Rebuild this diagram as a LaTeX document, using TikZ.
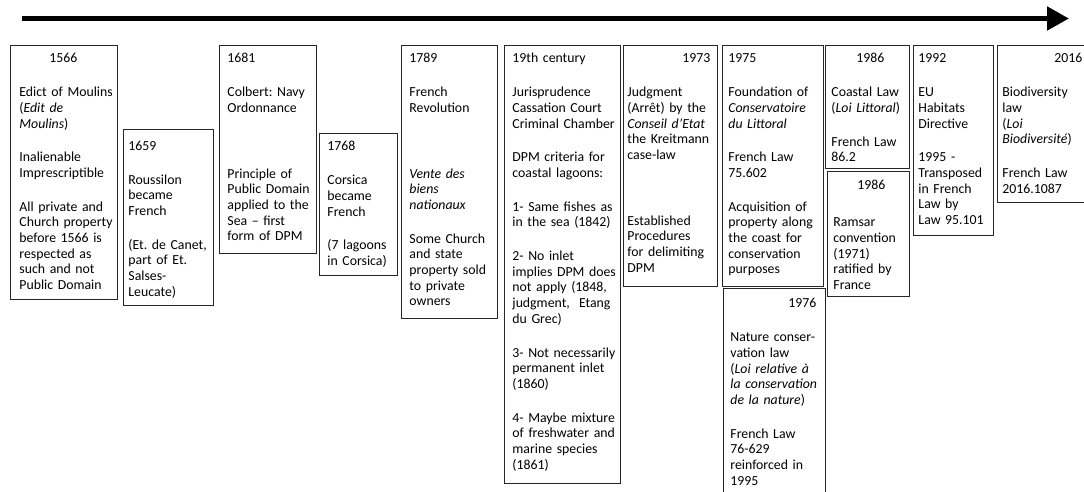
\documentclass[tikz,border=0pt]{standalone}
\usepackage{fontspec}
\setmainfont{Carlito}
\frenchspacing
\usetikzlibrary{arrows.meta}
\begin{document}
\begin{tikzpicture}[x=1pt,y=1pt,
    event/.style={draw=black!85,line width=0.9pt,anchor=north west,inner xsep=2pt,inner ysep=0pt,
      align=left,text height=17.5pt,font=\fontsize{13.8}{15.7}\selectfont},
    indent/.style={execute at begin node={\leftskip=#1pt\rightskip=-#1pt plus 1fil\relax}},
    timeline/.style={line width=5pt,-{Triangle[length=22pt,width=23pt]}}]
\useasboundingbox (0,0) rectangle (1084,-492);
\coordinate (t0) at (22,-18.5);
\coordinate (t1) at (1069,-18.5);
\draw[timeline] (t0) -- (t1);
\node[event,indent=7,text width=103pt,text depth=236.5pt] (e1566) at (10,-45) {\hspace*{\fill}1566\hspace*{\fill}\hspace*{15pt}\mbox{}\\[18pt]
  Edict of Moulins\\(\textit{Edit de}\\\textit{Moulins})\\[18pt]
  Inalienable\\Imprescriptible\\[18pt]
  All private and\\Church property\\before 1566 is\\respected as\\such and not\\Public Domain};
\node[event,indent=3,text width=86pt,text height=21pt,text depth=155pt] (e1659) at (123,-129) {1659\\[18pt]
  Roussilon\\became\\French\\[18pt]
  (Et. de Canet,\\part of Et.\\Salses-\\Leucate)};
\node[event,indent=6,text width=93pt,text depth=190.5pt] (e1681) at (219,-45) {1681\\[18pt]
  Colbert: Navy\\Ordonnance\\[50pt]
  Principle of\\Public Domain\\applied to the\\Sea – first\\form of DPM};
\node[event,indent=6,text width=74pt,text depth=124.5pt] (e1768) at (319,-133) {1768\\[18pt]
  Corsica\\became\\French\\[18pt]
  (7 lagoons\\in Corsica)};
\node[event,indent=6,text width=92pt,text depth=255.5pt] (e1789) at (401,-45) {1789\\[18pt]
  French\\Revolution\\[50pt]
  \textit{Vente des}\\\textit{biens}\\\textit{nationaux}\\[18pt]
  Some Church\\and state\\property sold\\to private\\owners};
\node[event,indent=6,text width=112pt,text depth=420.5pt] (e19th) at (504,-45) {19th century\\[18pt]
  Jurisprudence\\Cassation Court\\Criminal Chamber\\[18pt]
  DPM criteria for\\coastal lagoons:\\[18pt]
  1- Same fishes as\\in the sea (1842)\\[18pt]
  2- No inlet\\implies DPM does\\not apply (1848,\\judgment,\ \ Etang\\du Grec)\\[18pt]
  3- Not necessarily\\permanent inlet\\(1860)\\[18pt]
  4- Maybe mixture\\of freshwater and\\marine species\\(1861)};
\node[event,indent=2,text width=90pt,text depth=223.5pt] (e1973) at (623,-45) {\hspace*{\fill}1973\hspace*{7pt}\mbox{}\\[18pt]
  Judgment\\(Arrêt) by the\\\textit{Conseil d’Etat}\\the Kreitmann\\case-law\\[50pt]
  Established\\Procedures\\for delimiting\\DPM};
\node[event,indent=4,text width=97pt,text depth=223.5pt] (e1975) at (722,-45) {1975\\[18pt]
  Foundation of\\\textit{Conservatoire}\\\textit{du Littoral}\\[18pt]
  French Law\\75.602\\[18pt]
  Acquisition of\\property along\\the coast for\\conservation\\purposes};
\node[event,indent=5,text width=98pt,text height=19.5pt,text depth=220.5pt] (e1976) at (723,-288) {\hspace*{\fill}1976\hspace*{12pt}\mbox{}\\[18pt]
  Nature conser-\\vation law\\(\textit{Loi relative à}\\\textit{la conservation}\\\textit{de la nature})\\[18pt]
  French Law\\76-629\\reinforced in\\1995};
\node[event,indent=4,text width=80pt,text depth=105.5pt] (e1986a) at (825,-45) {\hspace*{\fill}1986\hspace*{\fill}\hspace*{2pt}\mbox{}\\[18pt]
  Coastal Law\\(\textit{Loi Littoral})\\[18pt]
  French Law\\86.2};
\node[event,indent=4,text width=78pt,text height=18.5pt,text depth=106.5pt] (e1986b) at (827,-171) {\hspace*{\fill}1986\hspace*{\fill}\hspace*{2pt}\mbox{}\\[21pt]
  Ramsar\\convention\\(1971)\\ratified by\\France};
\node[event,indent=3,text width=76pt,text depth=172.5pt] (e1992) at (913,-45) {1992\\[18pt]
  EU\\Habitats\\Directive\\[18pt]
  1995 -\\Transposed\\in French\\Law by\\Law 95.101};
\node[event,indent=3,text width=85pt,text depth=139.5pt] (e2016) at (997,-45) {\hspace*{\fill}2016\hspace*{5pt}\mbox{}\\[18pt]
  Biodiversity\\law\\(\textit{Loi}\\\textit{Biodiversité})\\[18pt]
  French Law\\2016.1087};
\end{tikzpicture}
\end{document}
